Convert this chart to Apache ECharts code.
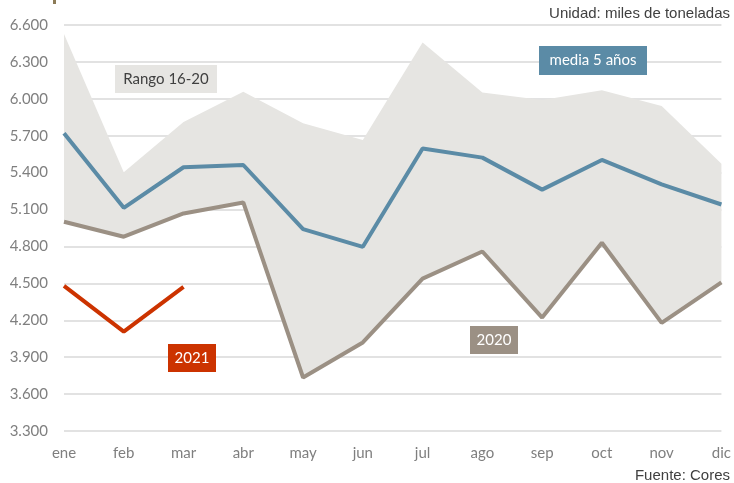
<!DOCTYPE html>
<html>
<head>
<meta charset="utf-8">
<script src="https://cdn.jsdelivr.net/npm/echarts@6/dist/echarts.min.js"></script>
<style>
html,body{margin:0;padding:0;background:#fff;}
#c{width:734px;height:483px;}
</style>
</head>
<body>
<div id="c"></div>
<script>
var months = ['ene','feb','mar','abr','may','jun','jul','ago','sep','oct','nov','dic'];
var rangeMax = [6.527, 5.404, 5.812, 6.057, 5.802, 5.665, 6.458, 6.052, 5.990, 6.070, 5.942, 5.472];
var rangeMin = [5.001, 4.879, 5.068, 5.158, 3.735, 4.020, 4.539, 4.759, 4.222, 4.830, 4.179, 4.508];
var media5 = [5.721, 5.114, 5.444, 5.462, 4.941, 4.797, 5.596, 5.522, 5.262, 5.503, 5.305, 5.141];
var y2020 = [5.001, 4.879, 5.068, 5.158, 3.735, 4.020, 4.539, 4.759, 4.222, 4.830, 4.179, 4.508];
var y2021 = [4.479, 4.108, 4.472];
var yTicks = [3.3, 3.6, 3.9, 4.2, 4.5, 4.8, 5.1, 5.4, 5.7, 6.0, 6.3, 6.6];

var band = rangeMax.map(function(v, i){ return +(v - rangeMin[i]).toFixed(3); });

var chart = echarts.init(document.getElementById('c'), null, {renderer:'canvas'});
var LATO = 'Lato';
chart.setOption({
  animation:false,
  backgroundColor:'#ffffff',
  grid:{left:64, right:10, top:25, bottom:52},
  xAxis:{
    type:'category', data:months, boundaryGap:false,
    axisLine:{show:false}, axisTick:{show:false},
    axisLabel:{color:'#7f7f7f', fontFamily:LATO, fontSize:15, margin:15}
  },
  yAxis:{
    type:'value', min:yTicks[0], max:yTicks[yTicks.length-1], interval:0.3,
    axisLine:{show:false}, axisTick:{show:false},
    splitLine:{lineStyle:{color:'#d9d9d9', width:1.5}},
    axisLabel:{color:'#7f7f7f', fontFamily:LATO, fontSize:15, margin:16,
      formatter:function(v){ return v.toFixed(3); }}
  },
  series:[
    {name:'min', type:'line', data:rangeMin, stack:'r', symbol:'none',
     lineStyle:{opacity:0}, silent:true},
    {name:'Rango 16-20', type:'line', data:band, stack:'r', symbol:'none',
     lineStyle:{opacity:0}, areaStyle:{color:'#e6e5e2', opacity:1}, silent:true},
    {name:'media 5 años', type:'line', data:media5, symbol:'none',
     lineStyle:{color:'#5b8ba6', width:4}},
    {name:'2020', type:'line', data:y2020, symbol:'none',
     lineStyle:{color:'#9b9084', width:4}},
    {name:'2021', type:'line', data:y2021, symbol:'none',
     lineStyle:{color:'#cc3300', width:4}}
  ],
  graphic:{elements:[
    {type:'rect', z:100, shape:{x:53, y:0, width:3, height:4}, style:{fill:'#8c7b57'}},
    {type:'text', z:100, x:730, y:13.5, style:{text:'Unidad: miles de toneladas', fill:'#404040', font:'15px "Liberation Sans", Arial', align:'right', verticalAlign:'middle'}},
    {type:'text', z:100, x:730, y:476, style:{text:'Fuente: Cores', fill:'#404040', font:'15px "Liberation Sans", Arial', align:'right', verticalAlign:'middle'}},
    {type:'rect', z:100, shape:{x:115, y:65, width:102, height:28}, style:{fill:'#e6e5e2'}},
    {type:'text', z:101, x:166, y:79, style:{text:'Rango 16-20', fill:'#404040', font:'15px Lato', align:'center', verticalAlign:'middle'}},
    {type:'rect', z:100, shape:{x:539, y:46, width:108, height:29}, style:{fill:'#5b8ba6'}},
    {type:'text', z:101, x:593, y:60.5, style:{text:'media 5 años', fill:'#ffffff', font:'15px Lato', align:'center', verticalAlign:'middle'}},
    {type:'rect', z:100, shape:{x:168, y:344, width:48, height:28}, style:{fill:'#cc3300'}},
    {type:'text', z:101, x:192, y:358, style:{text:'2021', fill:'#ffffff', font:'15px Lato', align:'center', verticalAlign:'middle'}},
    {type:'rect', z:100, shape:{x:470, y:326, width:48, height:28}, style:{fill:'#9b9084'}},
    {type:'text', z:101, x:494, y:340, style:{text:'2020', fill:'#ffffff', font:'15px Lato', align:'center', verticalAlign:'middle'}}
  ]}
});
</script>
</body>
</html>
